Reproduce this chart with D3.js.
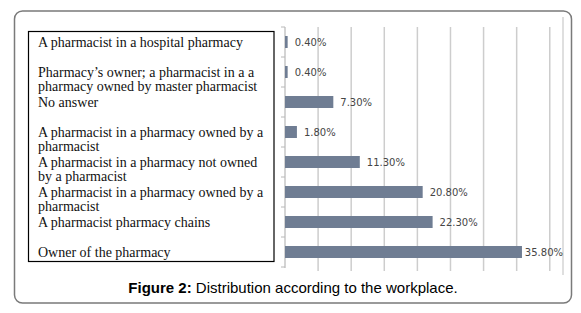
<!DOCTYPE html>
<html>
<head>
<meta charset="utf-8">
<script src="https://cdn.jsdelivr.net/npm/d3@7"></script>
<style>
  body { margin: 0; background: #fff; }
</style>
</head>
<body>
<div id="chart-area"></div>
<script>
// categories, top to bottom (each one split into the lines shown in the label box)
var categories = [
    ["A pharmacist in a hospital pharmacy"],
    ["Pharmacy\u2019s owner; a pharmacist in a a", "pharmacy owned by master pharmacist"],
    ["No answer"],
    ["A pharmacist in a pharmacy owned by a", "pharmacist"],
    ["A pharmacist in a pharmacy not owned", "by a pharmacist"],
    ["A pharmacist in a pharmacy owned by a", "pharmacist"],
    ["A pharmacist pharmacy chains"],
    ["Owner of the pharmacy"]
];
var percents = [0.4, 0.4, 7.3, 1.8, 11.3, 20.8, 22.3, 35.8];
var gridTicks = [5, 10, 15, 20, 25, 30, 35, 40];
var caption = ["Figure 2:", " Distribution according to the workplace."];

var width = 581, height = 313;

var data = categories.map(function(lines, i) {
    return { id: i, lines: lines, value: percents[i] };
});

var svg = d3.select("#chart-area")
    .append("svg")
        .attr("width", width)
        .attr("height", height);

// outer frame
svg.append("rect")
    .attr("x", 14.5)
    .attr("y", 11)
    .attr("width", 557)
    .attr("height", 292)
    .attr("rx", 8)
    .attr("fill", "none")
    .attr("stroke", "#7a7a7a")
    .attr("stroke-width", 1.5);

var x = d3.scaleLinear()
    .domain([0, 42])
    .range([285, 563]);

var y = d3.scaleBand()
    .domain(data.map(function(d) { return d.id; }))
    .range([27, 267])
    .paddingInner(0.6)
    .paddingOuter(0.3);

var step = y.step();

// gridlines
svg.append("g")
    .attr("class", "grid")
    .selectAll("line")
    .data(gridTicks)
    .enter()
    .append("line")
        .attr("x1", function(d) { return x(d); })
        .attr("x2", function(d) { return x(d); })
        .attr("y1", 27)
        .attr("y2", 271)
        .attr("stroke", "#cdcdcd")
        .attr("stroke-width", 1.5);

// right edge of plot area
svg.append("line")
    .attr("x1", x(42)).attr("x2", x(42))
    .attr("y1", 17).attr("y2", 275)
    .attr("stroke", "#d4d4d4")
    .attr("stroke-width", 1.5);

// category axis with ticks between the bands
var axis = svg.append("g").attr("class", "y axis");
axis.append("line")
    .attr("x1", x(0)).attr("x2", x(0))
    .attr("y1", 27).attr("y2", 268)
    .attr("stroke", "#b8b8b8")
    .attr("stroke-width", 1.2);

var tickPos = data.map(function(d) { return y(d.id) - (step - y.bandwidth()) / 2; });
tickPos.push(y.range()[1]);
axis.selectAll(".tick")
    .data(tickPos)
    .enter()
    .append("line")
        .attr("class", "tick")
        .attr("x1", x(0) - 4)
        .attr("x2", x(0))
        .attr("y1", function(d) { return d; })
        .attr("y2", function(d) { return d; })
        .attr("stroke", "#b8b8b8");

// bars
svg.selectAll("rect.bar")
    .data(data)
    .enter()
    .append("rect")
        .attr("class", "bar")
        .attr("x", x(0))
        .attr("y", function(d) { return y(d.id); })
        .attr("width", function(d) { return x(d.value) - x(0); })
        .attr("height", y.bandwidth())
        .attr("fill", "#6f7d93");

// value labels
svg.selectAll("text.value")
    .data(data)
    .enter()
    .append("text")
        .attr("class", "value")
        .attr("y", function(d) { return y(d.id) + y.bandwidth() / 2; })
        .attr("dy", "0.36em")
        .attr("font-family", "DejaVu Sans, Verdana, sans-serif")
        .attr("font-size", "10px")
        .attr("fill", "#454545")
        .text(function(d) { return d.value.toFixed(2) + "%"; })
        .attr("x", function(d) {
            var w = this.getComputedTextLength();
            return Math.min(x(d.value) + 7, x(42) - w);
        });

// label box
svg.append("rect")
    .attr("x", 28.5)
    .attr("y", 31.5)
    .attr("width", 245.5)
    .attr("height", 230)
    .attr("fill", "none")
    .attr("stroke", "#000")
    .attr("stroke-width", 1.2);

var labels = svg.selectAll("text.label")
    .data(data)
    .enter()
    .append("text")
        .attr("class", "label")
        .attr("font-family", "Liberation Serif, Times New Roman, serif")
        .attr("font-size", "14px")
        .attr("fill", "#111");

labels.selectAll("tspan")
    .data(function(d) {
        return d.lines.map(function(t, i) {
            return { text: t, y: y(d.id) + y.bandwidth() / 2 + i * 14 };
        });
    })
    .enter()
    .append("tspan")
        .attr("x", 38)
        .attr("y", function(d) { return d.y; })
        .attr("dy", "0.35em")
        .text(function(d) { return d.text; });

// caption
var cap = svg.append("text")
    .attr("x", 293)
    .attr("y", 293)
    .attr("text-anchor", "middle")
    .attr("font-family", "Liberation Sans, Arial, sans-serif")
    .attr("font-size", "15px")
    .attr("fill", "#000");
cap.append("tspan").attr("font-weight", "bold").text(caption[0]);
cap.append("tspan").text(caption[1]);
</script>
</body>
</html>
